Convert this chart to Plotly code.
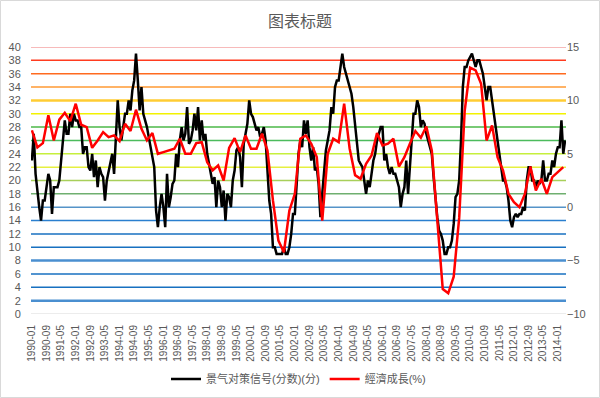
import plotly.graph_objects as go

# ---------------- data ----------------
months = [f"{y}-{m:02d}" for y in range(1990, 2015) for m in range(1, 13)][:293]

signal_score = [
    23, 27, 21, 18, 16, 14, 17, 17, 19, 21, 20, 15,          # 1990
    19, 19, 19, 20, 23, 25, 29, 27, 27, 30, 28, 30,          # 1991
    29, 29, 28, 28, 24, 25, 25, 22, 21.5, 24, 20.5, 23,      # 1992
    19, 22, 21, 20.5, 17, 20, 21.5, 23, 24, 21, 26, 32,      # 1993
    28, 26, 28, 30, 30, 32, 30.5, 33.5, 35, 39, 35, 30.5,    # 1994
    34, 30, 29, 28, 26.5, 25, 23, 22, 15.5, 13, 16, 18,      # 1995
    16, 13, 21, 16, 17.5, 19.5, 20, 24, 22, 26, 28, 26,      # 1996
    27, 31, 25.5, 26, 27.5, 30, 27.5, 31, 26, 29, 26, 27,    # 1997
    24, 22.5, 21, 19.5, 20.5, 16, 20, 19, 16, 18.5, 14, 18,  # 1998
    17.5, 16, 20, 21.5, 24.5, 25, 23.5, 19, 25.5, 27, 28.5, 32,  # 1999
    30, 29.5, 28.5, 27.5, 28, 26.5, 27, 28, 26, 21, 17, 15,  # 2000
    10, 10, 9, 9, 9, 9, 10, 9, 9, 10, 12, 15,                # 2001
    15, 19.5, 24, 26, 25, 29, 27, 29, 25, 23, 25, 21.5,      # 2002
    22, 19.5, 14.5, 18, 21.5, 24.5, 26, 27.5, 31, 30, 34, 35,  # 2003
    35, 37.5, 39, 37, 36, 35, 34, 33, 31, 28.5, 26, 23,      # 2004
    22.5, 22, 20, 18, 20, 19, 21, 23, 24, 26, 27, 28,        # 2005
    28, 23, 24, 22, 21, 22, 21, 21, 20, 19, 16, 18,          # 2006
    19, 23, 18, 22, 26.5, 30, 30, 32, 31, 28, 29, 28.5,      # 2007
    27, 26, 25, 24, 20.5, 17, 14.5, 12.5, 12, 11, 9, 9,      # 2008
    10, 10, 11, 13.5, 17.5, 18, 20, 26, 34, 37, 37, 38,      # 2009
    38.5, 39, 38, 37, 38, 38, 37, 36, 34, 32, 34, 34,        # 2010
    32, 30, 28, 26, 24, 22, 20, 20, 19, 17, 14, 13,          # 2011
    14.5, 15, 14.5, 15, 15, 16, 15.5, 20, 22, 22, 20, 20,    # 2012
    19, 20, 19.5, 20, 23, 20, 20, 21, 21, 23, 22, 24,        # 2013
    25, 25, 29, 24, 26,                                      # 2014
]

gdp_growth = [
    7.2, 5.6, 6.0, 8.6, 6.25, 8.2, 8.84, 8.06, 9.69, 7.72,
    7.5, 5.56, 6.25, 7.03, 6.56, 6.72, 6.19, 7.81, 7.13, 9.13,
    7.34, 6.25, 6.94, 5.0, 5.16, 5.31, 5.47, 6.41, 5.0, 5.0,
    6.0, 6.09, 4.22, 3.44, 3.91, 2.5, 5.56, 6.47, 5.16, 6.72,
    5.47, 5.47, 6.88, 5.31, 0.63, -3.13, -4.22, -0.31, 1.25, 6.41,
    6.72, 5.94, 4.69, -1.25, 5.0, 6.41, 6.09, 9.69, 5.5, 3.0,
    2.66, 4.06, 4.84, 6.94, 5.78, 5.94, 6.41, 3.81, 4.69, 5.94,
    7.13, 6.5, 7.56, 5.31, -0.94, -7.66, -8.06, -6.5, -1.0, 9.0,
    13.06, 12.81, 11.56, 6.25, 7.66, 4.69, 3.44, 1.25, 0.47, 0.0,
    1.25, 3.81, 1.56, 2.66, 1.25, 2.81, 3.28, 3.75,
]
quarter_months = months[::3][:len(gdp_growth)]

tick_labels = months[::8]
left_ticks = list(range(0, 41, 2))
right_ticks = list(range(-10, 16, 5))

title_text = "图表标题"
name_signal = "景气对策信号(分数)(分)"
name_gdp = "經濟成長(%)"

# ---------------- figure ----------------
grey = "#595959"
font_family = "Liberation Sans, Noto Sans CJK SC, sans-serif"

fig = go.Figure()
fig.add_trace(go.Scatter(
    x=months, y=signal_score, name=name_signal, mode="lines",
    line=dict(color="black", width=2.5), yaxis="y"))
fig.add_trace(go.Scatter(
    x=quarter_months, y=gdp_growth, name=name_gdp, mode="lines",
    line=dict(color="#FF0000", width=2.5), yaxis="y2"))

grid_colors = {
    40: ("#F4A3A3", 1.5), 38: ("#FF3B1F", 1.5), 36: ("#FF6A1F", 1.5),
    34: ("#FF9A33", 1.5), 32: ("#FFCC33", 2.5), 30: ("#F2F200", 1.5),
    28: ("#4CB848", 1.5), 26: ("#4CBB5C", 1.5), 24: ("#C6EF3C", 1.5),
    22: ("#E6F040", 1.5), 20: ("#A8CF5A", 1.5), 18: ("#6FAF6F", 1.5),
    16: ("#5593C8", 1.5), 14: ("#2A7FCF", 1.5), 12: ("#1770C0", 1.5),
    10: ("#1770C0", 1.5), 8: ("#4A8FD0", 2.5), 6: ("#1770C0", 1.5),
    4: ("#1770C0", 1.5), 2: ("#4A8FD0", 2.5), 0: ("#D9D9D9", 1),
}
shapes = []
for v in left_ticks:
    c, w = grid_colors[v]
    shapes.append(dict(type="line", xref="paper", yref="y", x0=0, x1=1,
                       y0=v, y1=v, line=dict(color=c, width=w), layer="below"))
# chart border
shapes.append(dict(type="rect", xref="paper", yref="paper",
                   x0=-30.5 / 535, x1=568.5 / 535,
                   y0=-83.5 / 267, y1=313.5 / 267,
                   line=dict(color="#D9D9D9", width=1), layer="below"))

fig.update_layout(
    width=600, height=398,
    margin=dict(l=31, r=34, t=47, b=84, autoexpand=False),
    paper_bgcolor="white", plot_bgcolor="white",
    font=dict(family=font_family, color=grey, size=11),
    title=dict(text=title_text, x=0.5, xanchor="center", y=1 - 21.5 / 398,
               yanchor="middle", font=dict(size=16, color=grey)),
    showlegend=True,
    legend=dict(orientation="h", x=0.5, xanchor="center",
                yref="container", y=1 - 379 / 398, yanchor="middle",
                font=dict(size=11, color=grey),
                bgcolor="rgba(0,0,0,0)", itemwidth=30),
    shapes=shapes,
    xaxis=dict(type="category", categoryorder="array", categoryarray=months,
               range=[-0.5, len(months) - 0.5],
               tickmode="array", tickvals=tick_labels, ticktext=tick_labels,
               tickangle=-90, tickfont=dict(size=10, color=grey),
               showgrid=False, zeroline=False, showline=False,
               ticks="outside", ticklen=6, tickcolor="rgba(0,0,0,0)",
               automargin=False),
    yaxis=dict(range=[0, 40], tickmode="array", tickvals=left_ticks,
               showgrid=False, zeroline=False, showline=False,
               tickfont=dict(size=11, color=grey),
               ticks="outside", ticklen=7, tickcolor="rgba(0,0,0,0)",
               automargin=False),
    yaxis2=dict(range=[-10, 15], tickmode="array", tickvals=right_ticks,
                overlaying="y", side="right",
                showgrid=False, zeroline=False, showline=False,
                tickfont=dict(size=11, color=grey),
                ticks="", automargin=False),
)

fig.write_html(
    "out.html",
    config={"displayModeBar": False},
    post_script="document.body.style.margin='0';document.body.style.padding='0';",
)
